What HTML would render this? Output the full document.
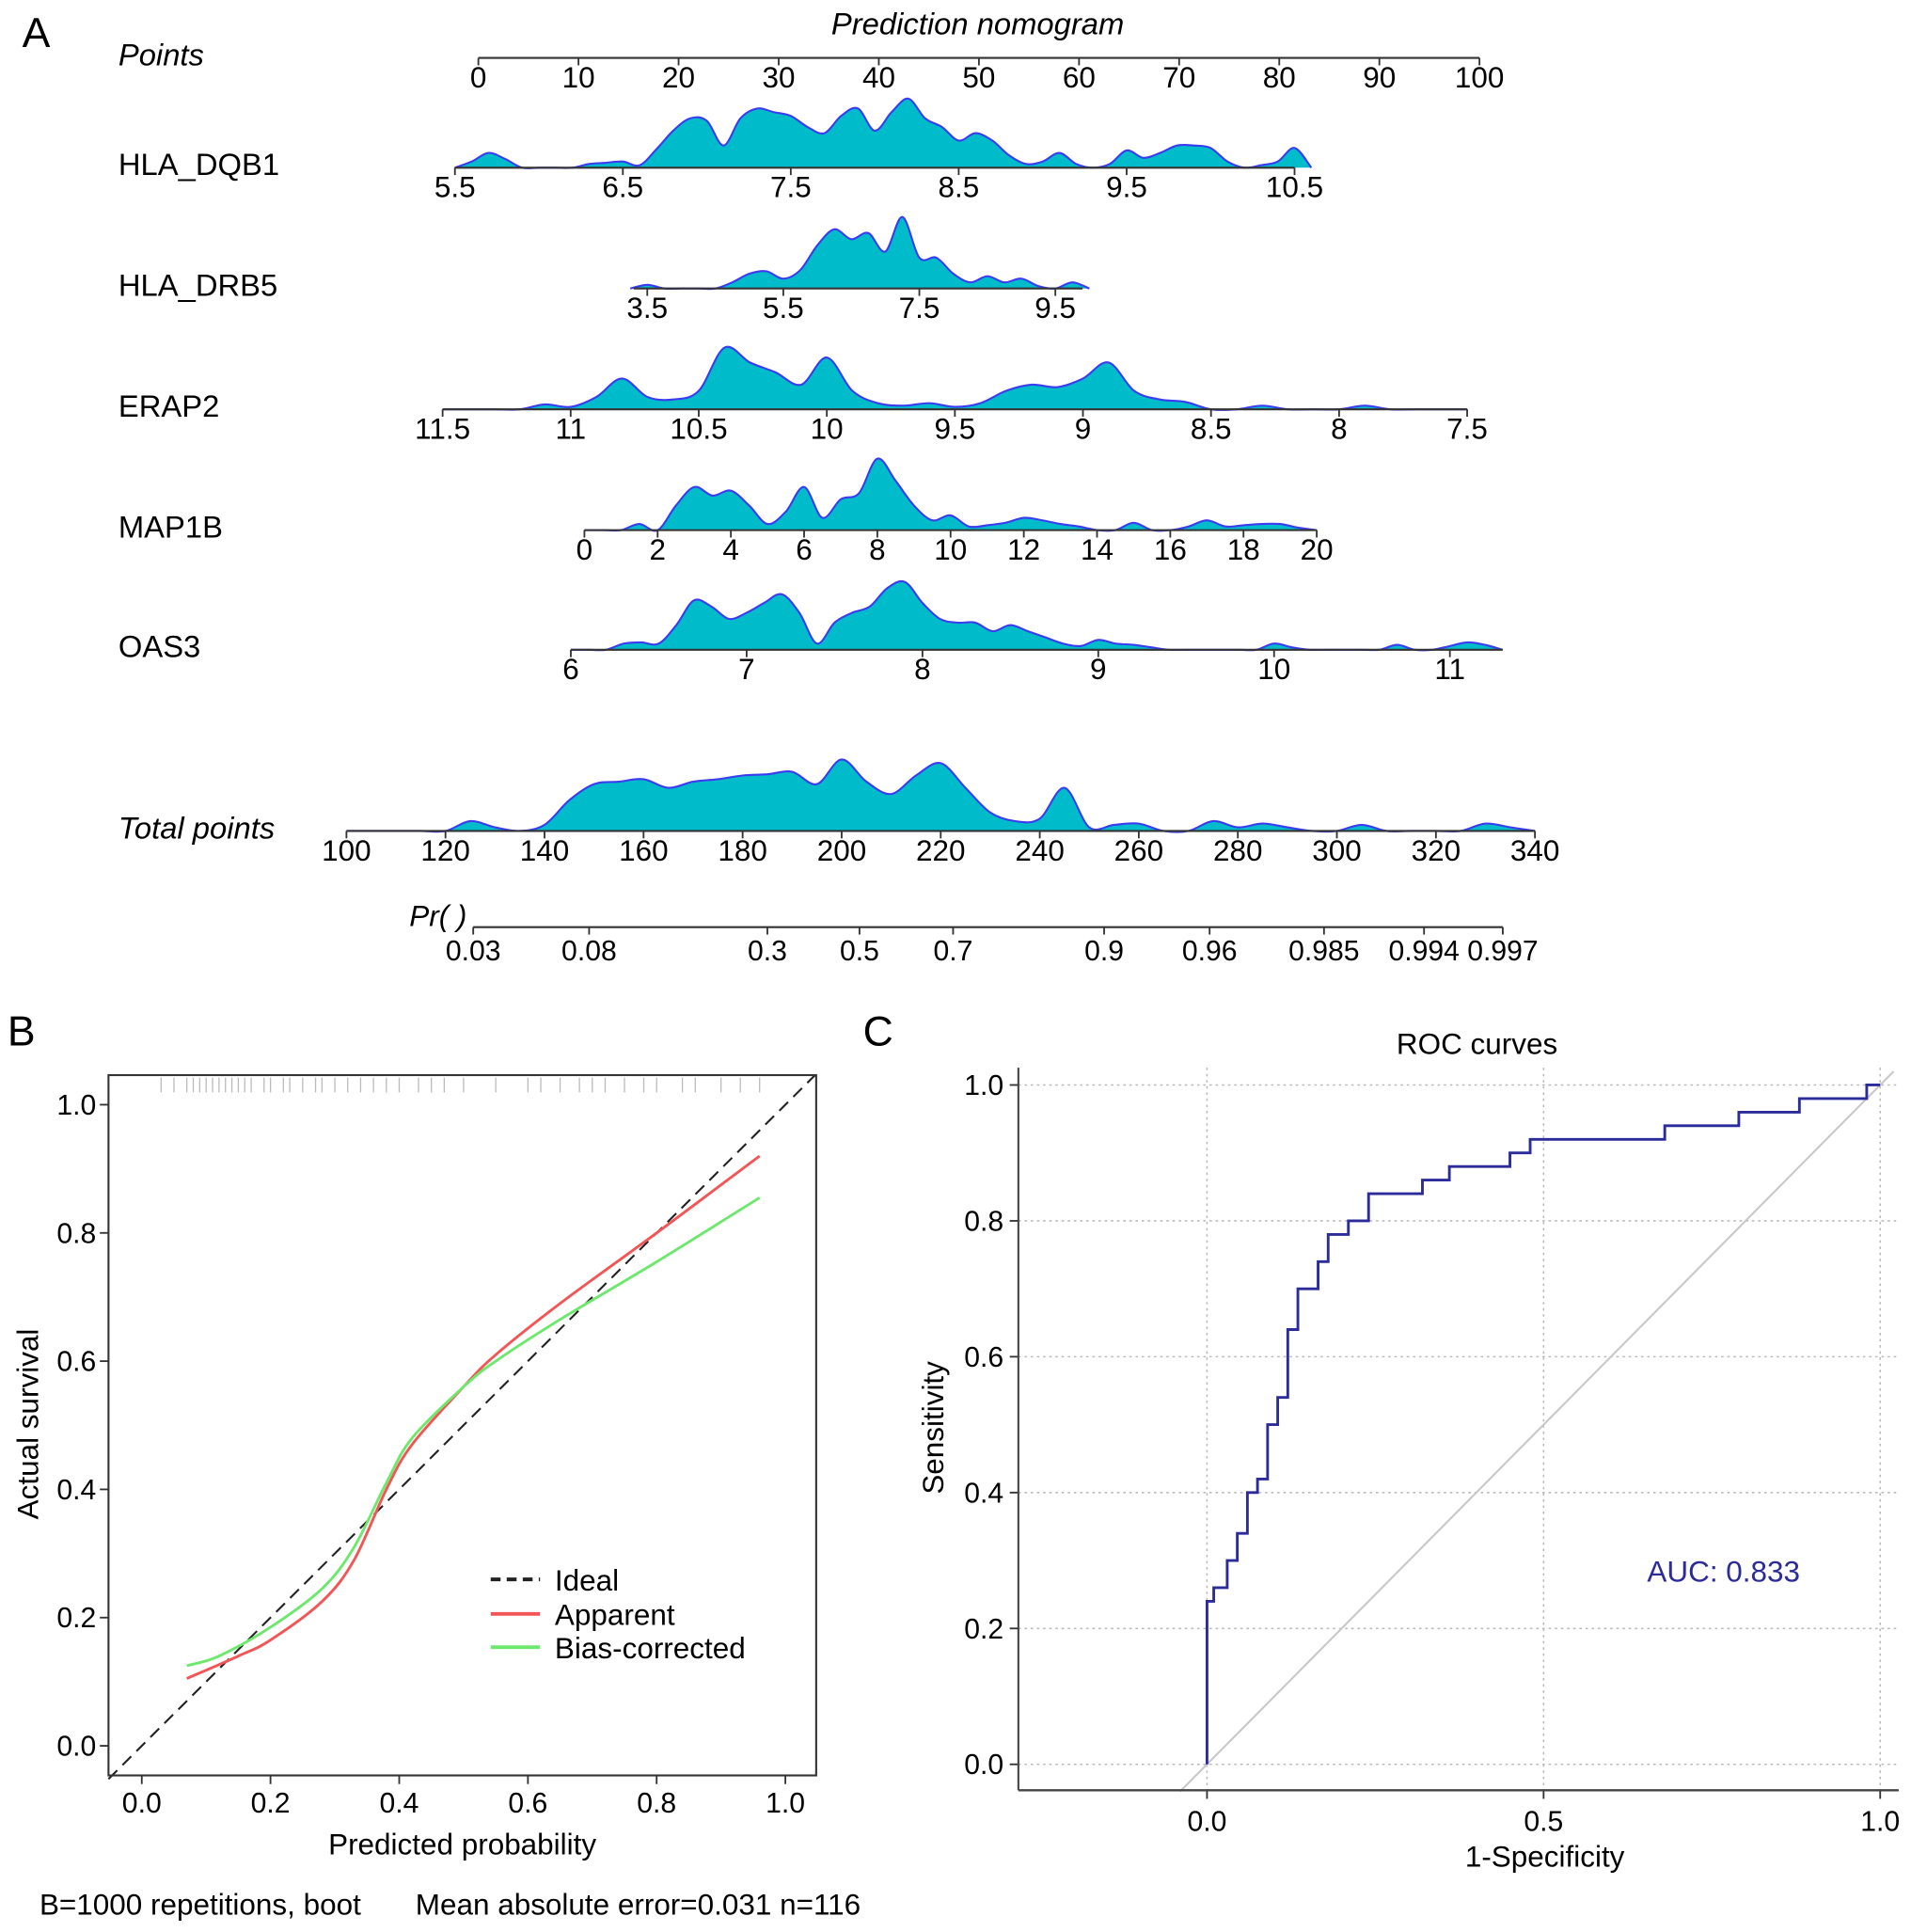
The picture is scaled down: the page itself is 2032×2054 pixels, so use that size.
<!DOCTYPE html>
<html><head><meta charset="utf-8">
<style>
html,body{margin:0;padding:0;background:#fff;}
svg{display:block;font-family:"Liberation Sans",Arial,sans-serif;}
</style></head>
<body>
<svg id="fig" width="2032" height="2054" viewBox="0 0 1550 1567" preserveAspectRatio="none" xmlns="http://www.w3.org/2000/svg">
<rect width="1550" height="1567" fill="#fff"/>
<g id="panelA"></g>
<g id="panelB"></g>
<g id="panelC"></g>
</svg>
<script>
// ---------- Panel A data ----------
const pointsTicks = [0,10,20,30,40,50,60,70,80,90,100];
const dqb1Ticks = [5.5,6.5,7.5,8.5,9.5,10.5];
const dqb1Dens = [0,5,12,7,0,0,0,0,3,4,5,2,15,30,40,38,18,40,48,45,42,33,28,42,48,30,45,56,40,33,22,28,22,10,3,5,12,3,0,3,14,8,12,18,18,16,5,0,2,5,16,0];
const drb5Ticks = [3.5,5.5,7.5,9.5];
const drb5Dens = [0,3,0,0,0,0,5,12,14,8,15,35,48,40,45,30,58,25,25,12,5,10,5,8,2,0,5,0];
const erap2Ticks = [11.5,11,10.5,10,9.5,9,8.5,8,7.5];
const erap2Dens = [0,0,0,0,4,2,10,25,10,8,15,50,38,30,20,42,15,5,3,5,2,5,15,20,18,25,38,15,8,6,0,0,3,0,0,0,3,0,0,0,0];
const map1bTicks = [0,2,4,6,8,10,12,14,16,18,20];
const map1bDens = [0,0,0,5,0,20,35,28,32,20,5,15,35,10,25,30,58,40,20,8,12,3,4,6,10,8,5,3,0,0,6,0,0,3,8,3,4,5,5,2,0];
const oas3Ticks = [6,7,8,9,10,11];
const oas3Dens = [0,0,0,5,6,5,20,40,35,25,30,38,45,30,5,22,30,35,50,55,38,25,22,22,15,20,15,10,5,3,8,5,4,2,0,0,0,0,0,0,5,2,0,0,0,0,0,4,0,0,3,6,4,0];
const totalTicks = [100,120,140,160,180,200,220,240,260,280,300,320,340];
const totalDens = [0,0,0,0,0,8,3,0,5,25,38,40,42,35,40,42,45,46,48,38,58,40,30,45,55,35,15,8,10,35,3,5,6,0,0,8,3,6,3,0,0,5,0,0,0,0,6,3,0];
const prLabels = ["0.03","0.08","0.3","0.5","0.7","0.9","0.96","0.985","0.994","0.997"];
const prTotals = [125.6,149,185,203.6,222.5,253,274.3,297.4,317.6,333.5];

// ---------- Panel B data ----------
const calTicks = [0,0.2,0.4,0.6,0.8,1.0];
const appX = [0.07,0.15,0.2,0.28,0.33,0.38,0.42,0.5,0.55,0.65,0.8,0.96];
const appY = [0.105,0.14,0.165,0.225,0.29,0.4,0.47,0.56,0.61,0.69,0.8,0.92];
const bcX = [0.07,0.12,0.2,0.28,0.33,0.38,0.42,0.5,0.55,0.65,0.8,0.96];
const bcY = [0.125,0.14,0.185,0.245,0.31,0.41,0.48,0.56,0.6,0.665,0.755,0.855];
const rugX = [0.03,0.05,0.07,0.08,0.09,0.1,0.11,0.12,0.13,0.14,0.15,0.16,0.17,0.19,0.2,0.22,0.23,0.25,0.27,0.28,0.3,0.32,0.34,0.36,0.38,0.4,0.43,0.45,0.47,0.5,0.55,0.6,0.62,0.65,0.68,0.7,0.72,0.75,0.78,0.8,0.84,0.86,0.9,0.93,0.96];

// ---------- Panel C data ----------
const rocFpr = [0,0,0.01,0.01,0.03,0.03,0.045,0.045,0.06,0.06,0.075,0.075,0.09,0.09,0.105,0.105,0.12,0.12,0.135,0.135,0.165,0.165,0.18,0.18,0.21,0.21,0.24,0.24,0.32,0.32,0.36,0.36,0.45,0.45,0.48,0.48,0.68,0.68,0.79,0.79,0.88,0.88,0.98,0.98,1];
const rocTpr = [0,0.24,0.24,0.26,0.26,0.3,0.3,0.34,0.34,0.4,0.4,0.42,0.42,0.5,0.5,0.54,0.54,0.64,0.64,0.7,0.7,0.74,0.74,0.78,0.78,0.8,0.8,0.84,0.84,0.86,0.86,0.88,0.88,0.9,0.9,0.92,0.92,0.94,0.94,0.96,0.96,0.98,0.98,1,1];
const rocTicksX = [0,0.5,1];
const rocTicksY = [0,0.2,0.4,0.6,0.8,1.0];
const aucText = "AUC: 0.833";

const NS = "http://www.w3.org/2000/svg";
function mk(parent, tag, attrs, text){
  const e = document.createElementNS(NS, tag);
  for (const k in attrs) e.setAttribute(k, attrs[k]);
  if (text !== undefined) e.textContent = text;
  parent.appendChild(e);
  return e;
}
function lin(d0,d1,r0,r1){return v => r0 + (v-d0)/(d1-d0)*(r1-r0);}
function smooth(pts){
  let d = "M"+pts[0][0]+","+pts[0][1];
  for (let i=0;i<pts.length-1;i++){
    const p0=pts[Math.max(0,i-1)],p1=pts[i],p2=pts[i+1],p3=pts[Math.min(pts.length-1,i+2)];
    const c1x=p1[0]+(p2[0]-p0[0])/6,c1y=p1[1]+(p2[1]-p0[1])/6;
    const c2x=p2[0]-(p3[0]-p1[0])/6,c2y=p2[1]-(p3[1]-p1[1])/6;
    d+=" C"+c1x+","+c1y+" "+c2x+","+c2y+" "+p2[0]+","+p2[1];
  }
  return d;
}

// ===== Panel A =====
const A = document.getElementById('panelA');
let t;
t = mk(A,'text',{x:18,y:38,'font-size':34},'A');
 
t = mk(A,'text',{x:793,y:28,'font-size':25,'font-style':'italic','text-anchor':'middle'},'Prediction nomogram');
 

function axisRow(name, label, italic, y, d0, d1, x0, x1, ticks, lineFrom, lineTo, dens, step, densStart){
  const g = mk(A,'g',{});
  
  
  const sx = lin(d0,d1,x0,x1);
  if (dens){
    const pts = dens.map((h,i)=>[sx(densStart+i*step), y - h]);
    const d = smooth(pts) + " L"+pts[pts.length-1][0]+","+y+" L"+pts[0][0]+","+y+" Z";
    const p = mk(g,'path',{d:d,fill:'#00bccb',stroke:'none'});
     
    const s = mk(g,'path',{d:smooth(pts),fill:'none',stroke:'#3b3bf0','stroke-width':1.6});
     
  }
  const l = mk(g,'line',{x1:sx(lineFrom),x2:sx(lineTo),y1:y,y2:y,stroke:'#333','stroke-width':1.6});
   
  ticks.forEach(v=>{
    const tk = mk(g,'line',{x1:sx(v),x2:sx(v),y1:y,y2:y+6,stroke:'#333','stroke-width':1.4});
     
    const tl = mk(g,'text',{x:sx(v),y:y+24,'font-size':24,'text-anchor':'middle'},String(v));
     
  });
  const lab = mk(g,'text',{x:96,y:y+6,'font-size':25,'font-style':italic?'italic':'normal'},label);
   
}
axisRow('points','Points',true,47,0,100,388,1200,pointsTicks,0,100,null,0,0);
axisRow('hla-dqb1','HLA_DQB1',false,136,5.5,10.5,369,1050,dqb1Ticks,5.5,10.5,dqb1Dens,0.1,5.5);
axisRow('hla-drb5','HLA_DRB5',false,234,3.5,9.5,525,856,drb5Ticks,3.3,9.9,drb5Dens,0.25,3.25);
axisRow('erap2','ERAP2',false,332,11.5,7.5,359,1190,erap2Ticks,11.5,7.5,erap2Dens,-0.1,11.5);
axisRow('map1b','MAP1B',false,430,0,20,474,1068,map1bTicks,0,20,map1bDens,0.5,0);
axisRow('oas3','OAS3',false,527,6,11,463,1176,oas3Ticks,6,11.3,oas3Dens,0.1,6.0);
axisRow('total-points','Total points',true,674,100,340,281,1245,totalTicks,100,340,totalDens,5,100);

(function(){
  const g = mk(A,'g',{});
   
  const sx = lin(100,340,281,1245);
  const y = 752;
  const l = mk(g,'line',{x1:sx(prTotals[0]),x2:sx(prTotals[prTotals.length-1]),y1:y,y2:y,stroke:'#333','stroke-width':1.6});
   
  prTotals.forEach((v,i)=>{
    const tk = mk(g,'line',{x1:sx(v),x2:sx(v),y1:y,y2:y+6,stroke:'#333','stroke-width':1.4});
     
    const tl = mk(g,'text',{x:sx(v),y:y+27,'font-size':23,'text-anchor':'middle'},prLabels[i]);
     
  });
  const lab = mk(g,'text',{x:332,y:751,'font-size':24,'font-style':'italic'},'Pr( )');
   
})();

// ===== Panel B =====
(function(){
  const B = document.getElementById('panelB');
  const sx = lin(0,1,115,637), sy = lin(0,1,1416,896);
  let e;
  e = mk(B,'text',{x:6,y:848,'font-size':34},'B');
   
  rugX.forEach(v=>{
    const r = mk(B,'line',{x1:sx(v),x2:sx(v),y1:874,y2:886,stroke:'#bbb','stroke-width':1});
     
  });
  e = mk(B,'line',{x1:88,y1:sy((88-115)/522),x2:sx((872-1416)/-520),y2:872,stroke:'#222','stroke-width':1.6,'stroke-dasharray':'10,6'});
   
  const ap = appX.map((x,i)=>[sx(x),sy(appY[i])]);
  e = mk(B,'path',{d:smooth(ap),fill:'none',stroke:'#f25555','stroke-width':2.2});
   
  const bc = bcX.map((x,i)=>[sx(x),sy(bcY[i])]);
  e = mk(B,'path',{d:smooth(bc),fill:'none',stroke:'#6de86d','stroke-width':2.2});
   
  e = mk(B,'rect',{x:88,y:872,width:574,height:568,fill:'none',stroke:'#333','stroke-width':1.6});
   
  calTicks.forEach(v=>{
    let k = mk(B,'line',{x1:sx(v),x2:sx(v),y1:1440,y2:1447,stroke:'#333','stroke-width':1.4});
     
    k = mk(B,'text',{x:sx(v),y:1470,'font-size':23,'text-anchor':'middle'},v.toFixed(1));
     
    k = mk(B,'line',{x1:81,x2:88,y1:sy(v),y2:sy(v),stroke:'#333','stroke-width':1.4});
     
    k = mk(B,'text',{x:78,y:sy(v)+8,'font-size':23,'text-anchor':'end'},v.toFixed(1));
     
  });
  e = mk(B,'text',{x:375,y:1504,'font-size':24,'text-anchor':'middle'},'Predicted probability');
   
  e = mk(B,'text',{x:0,y:0,'font-size':24,'text-anchor':'middle',transform:'translate(31,1155) rotate(-90)'},'Actual survival');
   
  const leg = [['Ideal','#222','8,5',1290],['Apparent','#f25555','',1318],['Bias-corrected','#6de86d','',1345]];
  leg.forEach(L=>{
    let k = mk(B,'line',{x1:398,x2:438,y1:L[3]-9,y2:L[3]-9,stroke:L[1],'stroke-width':3,'stroke-dasharray':L[2]||'none'});
     
    k = mk(B,'text',{x:450,y:L[3],'font-size':24},L[0]);
     
  });
  e = mk(B,'text',{x:32,y:1553,'font-size':24},'B=1000 repetitions, boot');
   
  e = mk(B,'text',{x:337,y:1553,'font-size':24},'Mean absolute error=0.031 n=116');
   
})();

// ===== Panel C =====
(function(){
  const C = document.getElementById('panelC');
  const sx = lin(0,1,979,1525), sy = lin(0,1,1431,880);
  let e;
  e = mk(C,'text',{x:700,y:848,'font-size':34},'C');
   
  e = mk(C,'text',{x:1198,y:855,'font-size':24,'text-anchor':'middle'},'ROC curves');
   
  rocTicksY.forEach(v=>{
    let k = mk(C,'line',{x1:826,x2:1540,y1:sy(v),y2:sy(v),stroke:'#bbb','stroke-width':1.2,'stroke-dasharray':'2,3'});
     
    k = mk(C,'line',{x1:819,x2:826,y1:sy(v),y2:sy(v),stroke:'#333','stroke-width':1.4});
     
    k = mk(C,'text',{x:814,y:sy(v)+8,'font-size':23,'text-anchor':'end'},v.toFixed(1));
     
  });
  rocTicksX.forEach(v=>{
    let k = mk(C,'line',{x1:sx(v),x2:sx(v),y1:866,y2:1452,stroke:'#bbb','stroke-width':1.2,'stroke-dasharray':'2,3'});
     
    k = mk(C,'line',{x1:sx(v),x2:sx(v),y1:1452,y2:1459,stroke:'#333','stroke-width':1.4});
     
    k = mk(C,'text',{x:sx(v),y:1485,'font-size':23,'text-anchor':'middle'},v.toFixed(1));
     
  });
  e = mk(C,'line',{x1:sx(-0.04),y1:sy(-0.04),x2:sx(1.02),y2:sy(1.02),stroke:'#c8c8c8','stroke-width':1.6});
   
  const d = rocFpr.map((x,i)=>(i?'L':'M')+sx(x)+','+sy(rocTpr[i])).join(' ');
  e = mk(C,'path',{d:d,fill:'none',stroke:'#2b2b9a','stroke-width':2.2});
   
  e = mk(C,'line',{x1:826,x2:826,y1:866,y2:1452,stroke:'#444','stroke-width':1.6});
   
  e = mk(C,'line',{x1:826,x2:1540,y1:1452,y2:1452,stroke:'#444','stroke-width':1.8});
   
  e = mk(C,'text',{x:1253,y:1514,'font-size':24,'text-anchor':'middle'},'1-Specificity');
   
  e = mk(C,'text',{x:0,y:0,'font-size':24,'text-anchor':'middle',transform:'translate(765,1158) rotate(-90)'},'Sensitivity');
   
  e = mk(C,'text',{x:1398,y:1283,'font-size':24,'text-anchor':'middle',fill:'#2b2b9a'},aucText);
   
})();
</script>
</body></html>
